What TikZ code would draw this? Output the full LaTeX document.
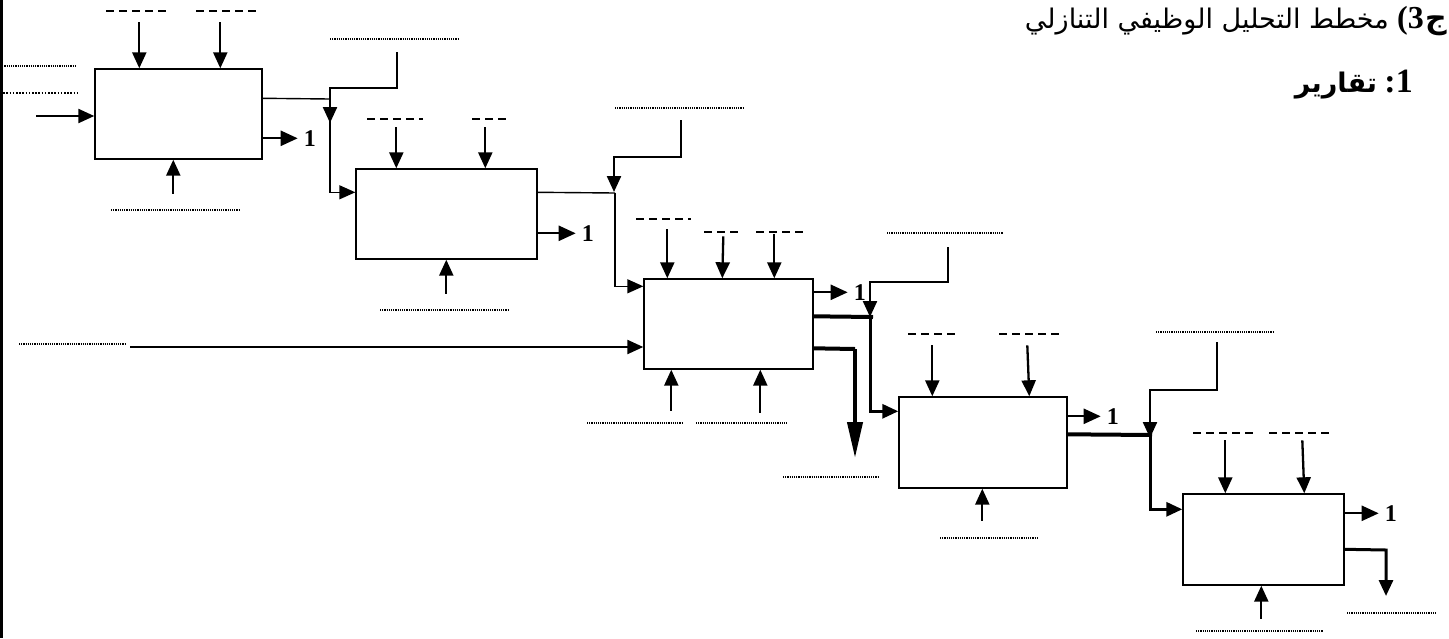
\documentclass[tikz,border=0pt]{standalone}
\usepackage{fontspec}
\setmainfont{Liberation Serif}
\newfontfamily\arabicfont[Script=Arabic]{DejaVu Sans}
\TeXXeTstate=1
\usetikzlibrary{arrows.meta}
\tikzset{
  box/.style={draw, line width=1.4pt, inner sep=0pt},
  arr/.style={line width=2.3pt, -{Triangle[length=16pt,width=14pt]}},
  oarr/.style={line width=2.3pt, -{Triangle[length=17pt,width=15pt]}},
  tarr/.style={line width=1.4pt, -{Triangle[length=16pt,width=14pt]}},
  karr/.style={line width=3pt, -{Triangle[length=16pt,width=14pt]}},
  thinl/.style={line width=1.4pt},
  thickl/.style={line width=4pt},
  dotl/.style={line width=1.3pt, dash pattern=on 1.2pt off 1pt},
  dashl/.style={line width=1.5pt, dash pattern=on 8pt off 5pt},
  one/.style={font=\fontsize{24}{24}\selectfont\bfseries, inner sep=0pt, anchor=west, xshift=5pt},
  txt/.style={inner sep=0pt, anchor=base east},
}
\begin{document}
\begin{tikzpicture}[x=1pt,y=-1pt]
\fill[white] (0,0) rectangle (1449,638);
\useasboundingbox (0,0) rectangle (1449,638);
\draw[line width=2.5pt] (1.25,0) -- (1.25,638);

% title
\node[txt] (t1) at (1447,28) {\arabicfont\bfseries\fontsize{30}{30}\selectfont ج};
\node[txt, xshift=-1pt] (t2) at (t1.base west) {\bfseries\fontsize{32}{32}\selectfont (3};
\node[txt, xshift=-8pt] (t3) at (t2.base west)
  {\arabicfont\fontsize{27}{27}\selectfont\beginR مخطط التحليل الوظيفي التنازلي\endR};
\node[txt] (s1) at (1413,92) {\bfseries\fontsize{34}{34}\selectfont :1};
\node[txt, xshift=-7pt] (s2) at (s1.base west) {\arabicfont\bfseries\fontsize{27}{27}\selectfont تقارير};

% boxes
\node[box, minimum width=167pt, minimum height=90pt] (b1) at (178.5,114) {};
\node[box, minimum width=181pt, minimum height=90pt] (b2) at (446.5,214) {};
\node[box, minimum width=169pt, minimum height=90pt] (b3) at (728.5,324) {};
\node[box, minimum width=168pt, minimum height=91pt] (b4) at (983,442.5) {};
\node[box, minimum width=161pt, minimum height=91pt] (b5) at (1263.5,539.5) {};

% ---------- box 1
\draw[dashl] (106,11) -- (168,11);
\draw[dashl] (196,11) -- (258,11);
\draw[arr] ([xshift=45pt,yshift=46pt]b1.north west) -- ([xshift=45pt]b1.north west);
\draw[arr] ([xshift=126pt,yshift=46pt]b1.north west) -- ([xshift=126pt]b1.north west);
\draw[dotl] (0,66) -- (77,66);
\draw[dotl, line width=1.8pt, dash pattern=on 1.6pt off 1.6pt] (0,93) -- (77,93);
\coordinate (in1) at (36,116);
\draw[arr] (in1) -- (in1 -| b1.west);
\draw[arr] ([xshift=79pt,yshift=-34pt]b1.south west) -- ([xshift=79pt]b1.south west);
\draw[dotl] (111,210) -- (240,210);
\draw[oarr] ([yshift=-70pt]b1.north east) -- ++(35,0) node[one] (o1) {1};
\coordinate (j1) at (330,99);
\draw[thinl] ([yshift=-30pt]b1.north east) -- (j1);
\draw[tarr] (j1) |- ([yshift=-24pt]b2.north west);
\draw[dotl] (330,39) -- (458,39);
\coordinate (c1) at (397,52);
\draw[arr] (c1) |- (330,88) -- (330,123);

% ---------- box 2
\draw[dashl] (367,119) -- (423,119);
\draw[dashl] (472,119) -- (508,119);
\draw[arr] ([xshift=41pt,yshift=41pt]b2.north west) -- ([xshift=41pt]b2.north west);
\draw[arr] ([xshift=130pt,yshift=41pt]b2.north west) -- ([xshift=130pt]b2.north west);
\draw[arr] ([xshift=91pt,yshift=-34pt]b2.south west) -- ([xshift=91pt]b2.south west);
\draw[dotl] (380,310) -- (508,310);
\draw[oarr] ([yshift=-65pt]b2.north east) -- ++(38,0) node[one] (o2) {1};
\coordinate (j2) at (615,193);
\draw[thinl] ([yshift=-24pt]b2.north east) -- (j2);
\draw[tarr] (j2) |- ([yshift=-8pt]b3.north west);
\draw[dotl] (615,108) -- (743,108);
\coordinate (c2) at (681,120);
\draw[arr] (c2) |- (614,157) -- (614,192);

% ---------- box 3
\draw[dashl] (636,219) -- (691,219);
\draw[dashl] (704,232) -- (739,232);
\draw[dashl] (756,232) -- (805,232);
\draw[arr] ([xshift=24pt,yshift=49pt]b3.north west) -- ([xshift=24pt]b3.north west);
\draw[arr] ([xshift=80pt,yshift=42pt]b3.north west) -- ([xshift=79pt]b3.north west);
\draw[arr] ([xshift=131pt,yshift=44pt]b3.north west) -- ([xshift=131pt]b3.north west);
\draw[dotl] (19,344) -- (126,344);
\coordinate (in3) at (130,347);
\draw[arr] (in3) -- (in3 -| b3.west);
\draw[arr] ([xshift=28pt,yshift=-41pt]b3.south west) -- ([xshift=28pt]b3.south west);
\draw[arr] ([xshift=117pt,yshift=-43pt]b3.south west) -- ([xshift=117pt]b3.south west);
\draw[dotl] (587,423) -- (683,423);
\draw[dotl] (696,423) -- (787,423);
\draw[oarr] ([yshift=-14pt]b3.north east) -- ++(34,0) node[one] (o3) {1};
\coordinate (j3) at (870,317);
\draw[thickl] ([yshift=-38pt]b3.north east) -- (873,317);
\draw[karr] (j3) |- ([yshift=-15pt]b4.north west);
\draw[dotl] (887,233) -- (1003,233);
\coordinate (c3) at (948,247);
\draw[arr] (c3) |- (870,282) -- (870,317);
\coordinate (k3) at (855,349);
\draw[thickl] ([yshift=-70pt]b3.north east) -- (k3);
\draw[line width=4pt, -{Triangle[length=36pt,width=15pt]}] (k3) -- (855,458);
\draw[dotl] (783,477) -- (878,477);

% ---------- box 4
\draw[dashl] (908,334) -- (955,334);
\draw[dashl] (999,334) -- (1062,334);
\draw[arr] ([xshift=34pt,yshift=51pt]b4.north west) -- ([xshift=34pt]b4.north west);
\draw[arr] ([xshift=129pt,yshift=51pt]b4.north west) -- ([xshift=131pt]b4.north west);
\draw[arr] ([xshift=84pt,yshift=-32pt]b4.south west) -- ([xshift=84pt]b4.south west);
\draw[dotl] (940,538) -- (1037,538);
\draw[oarr] ([yshift=-20pt]b4.north east) -- ++(33,0) node[one] (o4) {1};
\coordinate (j4) at (1150,435);
\draw[thickl] ([yshift=-38pt]b4.north east) -- (1152,435);
\draw[karr] (j4) |- ([yshift=-16pt]b5.north west);
\draw[dotl] (1156,332) -- (1273,332);
\coordinate (c4) at (1217,342);
\draw[arr] (c4) |- (1150,390) -- (1150,438);

% ---------- box 5
\draw[dashl] (1193,433) -- (1255,433);
\draw[dashl] (1269,433) -- (1331,433);
\draw[arr] ([xshift=43pt,yshift=53pt]b5.north west) -- ([xshift=43pt]b5.north west);
\draw[arr] ([xshift=120pt,yshift=53pt]b5.north west) -- ([xshift=122pt]b5.north west);
\draw[arr] ([xshift=79pt,yshift=-33pt]b5.south west) -- ([xshift=79pt]b5.south west);
\draw[dotl] (1196,631) -- (1323,631);
\draw[oarr] ([yshift=-20pt]b5.north east) -- ++(34,0) node[one] (o5) {1};
\coordinate (k5) at (1386,550);
\draw[karr] ([yshift=-56pt]b5.north east) -- (k5) -- (1386,596);
\draw[dotl] (1347,613) -- (1437,613);
\end{tikzpicture}
\end{document}
